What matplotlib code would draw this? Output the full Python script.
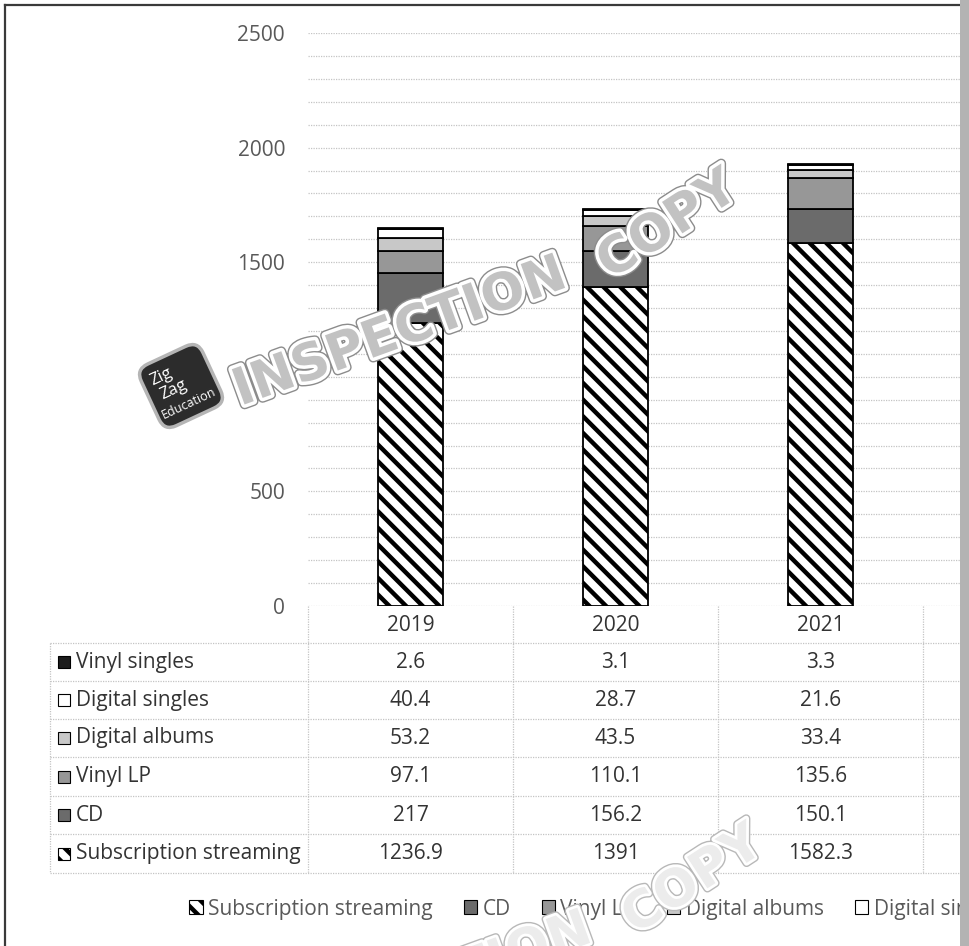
import matplotlib
matplotlib.use('Agg')
import matplotlib.pyplot as plt
import matplotlib.patheffects as pe
import matplotlib.transforms as mtransforms
from matplotlib.patches import Rectangle, FancyBboxPatch, Patch
from matplotlib.lines import Line2D
from matplotlib.ticker import MultipleLocator
import numpy as np

# =============================================================================
# data
# =============================================================================
years = ['2019', '2020', '2021']
series = ['Subscription streaming', 'CD', 'Vinyl LP', 'Digital albums',
          'Digital singles', 'Vinyl singles']
streaming = [1236.9, 1391, 1582.3]
cd = [217, 156.2, 150.1]
vinyl_lp = [97.1, 110.1, 135.6]
digital_albums = [53.2, 43.5, 33.4]
digital_singles = [40.4, 28.7, 21.6]
vinyl_singles = [2.6, 3.1, 3.3]
yticks = [0, 500, 1000, 1500, 2000, 2500]

values = [streaming, cd, vinyl_lp, digital_albums, digital_singles, vinyl_singles]
faces = ['white', '#6b6b6b', '#979797', '#c8c8c8', 'white', '#1c1c1c']
hatches = ['\\\\', None, None, None, None, None]

# =============================================================================
# figure, everything laid out in pixels
# =============================================================================
W, H = 970, 946
plt.rcParams['font.family'] = ['Open Sans', 'DejaVu Sans']
plt.rcParams['hatch.linewidth'] = 3.2
txt_col = '#333333'
grid_col = '#c4c4c4'
fs = 15

fig = plt.figure(figsize=(W / 100, H / 100), dpi=100)
def fx(x): return x / W
def fy(y): return 1 - y / H

# plot area continues past the right edge (fourth column is cut off)
ax = fig.add_axes([fx(308), fy(606), 4 * 205 / W, (606 - 33) / H])
ax.set_xlim(-0.5, 3.5)
ax.set_ylim(0, 2500)

x = np.arange(len(years))
bottom = np.zeros(len(years))
for name, vals, fc, ht in zip(series, values, faces, hatches):
    ax.bar(x, vals, width=0.317, bottom=bottom, color=fc, edgecolor='black',
           linewidth=1.3, hatch=ht, label=name, zorder=3)
    bottom += np.array(vals)

ax.set_yticks(yticks)
ax.yaxis.set_minor_locator(MultipleLocator(100))
ax.grid(axis='y', which='both', color=grid_col, lw=0.9, ls=(0, (1, 1)), zorder=0)
ax.set_xticks([])
ax.tick_params(axis='y', which='both', length=0, pad=16.5, labelsize=fs,
               labelcolor='#595959')
for s in ax.spines.values():
    s.set_visible(False)

# =============================================================================
# data table under the chart
# =============================================================================
colx = mtransforms.blended_transform_factory(ax.transData, fig.transFigure)
row_lines = [643, 681, 719, 757, 796, 834, 873]
for yy in row_lines:
    fig.add_artist(Line2D([fx(50), 1], [fy(yy), fy(yy)], color=grid_col,
                          lw=0.9, ls=(0, (1, 1))))
fig.add_artist(Line2D([fx(50), fx(50)], [fy(643), fy(873)], color=grid_col,
                      lw=0.9, ls=(0, (1, 1))))
for xs in np.arange(-0.5, 4, 1.0):
    fig.add_artist(Line2D([xs, xs], [fy(606), fy(873)], color=grid_col,
                          lw=0.9, ls=(0, (1, 1)), transform=colx))

for i, yr in enumerate(years):
    fig.text(i, fy(625), yr, transform=colx, ha='center', va='center',
             fontsize=fs, color=txt_col)

for r, k in enumerate(range(len(series) - 1, -1, -1)):
    yc = (row_lines[r] + row_lines[r + 1]) / 2
    fig.add_artist(Rectangle((fx(58), fy(yc + 6)), fx(12), 12 / H,
                             facecolor=faces[k], edgecolor='black', lw=0.8,
                             hatch=hatches[k]))
    fig.text(fx(76), fy(yc), series[k], ha='left', va='center',
             fontsize=fs, color=txt_col)
    for i, v in enumerate(values[k]):
        fig.text(i, fy(yc), '{:g}'.format(v), transform=colx, ha='center',
                 va='center', fontsize=fs, color=txt_col)

# =============================================================================
# legend
# =============================================================================
handles = [Patch(facecolor=fc, edgecolor='black', lw=0.8, hatch=ht)
           for fc, ht in zip(faces, hatches)]
leg = fig.legend(handles, series, loc='center left',
                 bbox_to_anchor=(fx(189), fy(909)), ncol=6, frameon=False,
                 handlelength=0.65, handleheight=0.65, handletextpad=0.25,
                 columnspacing=1.5, fontsize=fs, labelcolor='#595959',
                 borderaxespad=0, borderpad=0)

# =============================================================================
# frame
# =============================================================================
fig.add_artist(Line2D([fx(5), fx(960)], [fy(5), fy(5)], color='#3a3a3a', lw=1.6))
fig.add_artist(Line2D([fx(5), fx(5)], [fy(5), 0], color='#3a3a3a', lw=1.6))
fig.add_artist(Rectangle((fx(960), 0), fx(10), 1, facecolor='#b3b3b3',
                         edgecolor='none', zorder=20))

# =============================================================================
# stamp and logo
# =============================================================================
stamp = [pe.Stroke(linewidth=7, foreground='#8c8c8c'),
         pe.Stroke(linewidth=5, foreground='white'), pe.Normal()]
stamp2 = [pe.Stroke(linewidth=6, foreground='#b8b8b8'),
          pe.Stroke(linewidth=4, foreground='white'), pe.Normal()]
for dx, dy, col, eff in [(0, 0, '#c2c2c2', stamp), (25, 655, '#ececec', stamp2)]:
    fig.text(fx(400 + dx), fy(333 + dy), 'INSPECTION', rotation=20,
             fontsize=37, fontweight='bold', family='DejaVu Sans', color=col,
             ha='center', va='center', path_effects=eff, zorder=10)
    fig.text(fx(668 + dx), fy(226 + dy), 'COPY', rotation=33,
             fontsize=37, fontweight='bold', family='DejaVu Sans', color=col,
             ha='center', va='center', path_effects=eff, zorder=10)

cx, cy, ang = 181, H - 386, 25
rot = mtransforms.Affine2D().rotate_deg_around(cx, cy, ang)
to_fig = mtransforms.Affine2D().scale(1 / W, 1 / H) + fig.transFigure
fig.add_artist(FancyBboxPatch((cx - 34, cy - 34), 68, 68,
                              boxstyle='round,pad=0,rounding_size=13',
                              facecolor='#2c2c2c', edgecolor='#b5b5b5', lw=2.5,
                              transform=rot + to_fig, zorder=9))
for tx, ty, s, size in [(-14, 17, 'Zig', 12), (-8, 0, 'Zag', 12),
                        (0, -19, 'Education', 9)]:
    px, py = rot.transform((cx + tx, cy + ty))
    fig.text(px / W, py / H, s, rotation=ang, ha='center', va='center',
             fontsize=size, color='white', zorder=11)

plt.savefig('out.png', dpi=100)
